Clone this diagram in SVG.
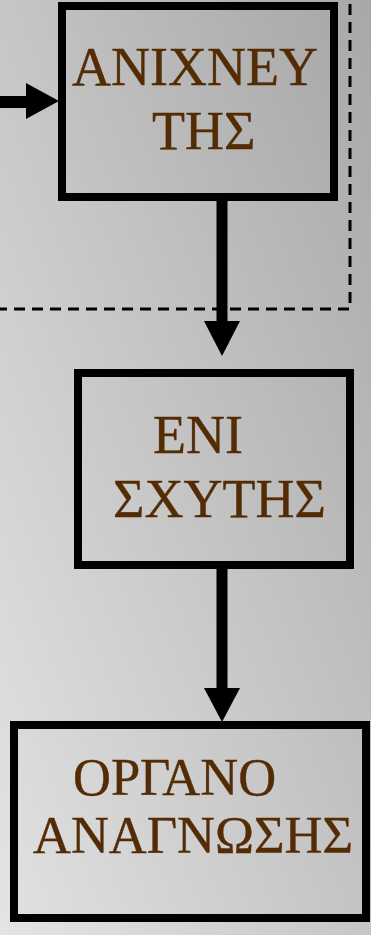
<svg xmlns="http://www.w3.org/2000/svg" width="371" height="935" viewBox="0 0 371 935">
<defs>
<linearGradient id="bg" x1="0" y1="1" x2="1" y2="0">
<stop offset="0" stop-color="#e4e4e4"/>
<stop offset="1" stop-color="#a8a8a8"/>
</linearGradient>
<linearGradient id="bx" gradientUnits="userSpaceOnUse" x1="0" y1="1" x2="1" y2="0" gradientTransform="scale(371 935)">
<stop offset="0" stop-color="#e2e2e2"/>
<stop offset="1" stop-color="#a6a6a6"/>
</linearGradient>
<style>
.box{fill:url(#bx);stroke:#000;stroke-width:8}
.t{font-family:"Liberation Serif","Times New Roman",serif;font-size:54px;fill:#532c06;stroke:#532c06;stroke-width:0.4}
.s{font-size:52.5px}
.c{stroke:#000;stroke-width:11;fill:none}
.h{fill:#000}
.d{fill:none;stroke:#000;stroke-width:3;stroke-dasharray:11 7}
</style>
</defs>
<rect x="0" y="0" width="371" height="935" fill="url(#bg)"/>
<path class="d" d="M-4 309 H350 V-4"/>
<g id="connectors">
<line class="c" x1="-5" y1="102" x2="27" y2="102" style="stroke-width:12"/>
<polygon class="h" points="26,83 59,101 26,119"/>
<line class="c" x1="222" y1="200" x2="222" y2="323"/>
<polygon class="h" points="204,321 240,321 222,356"/>
<line class="c" x1="222" y1="568" x2="222" y2="690"/>
<polygon class="h" points="204,688 240,688 222,722"/>
</g>
<g id="node1">
<rect class="box" x="62" y="6" width="272" height="191"/>
<text class="t" x="72" y="85">ΑΝΙΧΝΕΥ</text>
<text class="t" x="152" y="149">ΤΗΣ</text>
</g>
<g id="node2">
<rect class="box" x="78" y="373" width="272" height="192"/>
<text class="t" x="153" y="453">ΕΝΙ</text>
<text class="t" x="113" y="517">ΣΧΥΤΗΣ</text>
</g>
<g id="node3">
<rect class="box" x="14" y="725" width="352" height="193"/>
<text class="t s" x="73" y="795">ΟΡΓΑΝΟ</text>
<text class="t s" x="33" y="853">ΑΝΑΓΝΩΣΗΣ</text>
</g>
</svg>
